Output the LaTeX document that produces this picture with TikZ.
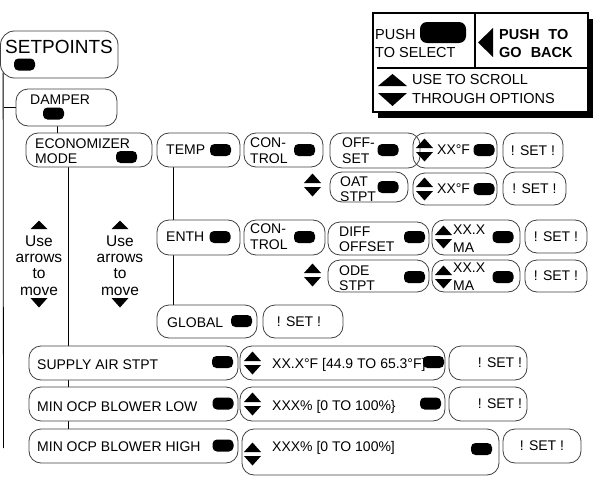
\documentclass[tikz,border=0pt]{standalone}
\usepackage{fontspec}
\setmainfont{Liberation Sans}
\usepackage{tikz}
\usetikzlibrary{backgrounds,shadows,positioning}
\tikzset{
  panel/.style={draw=black!75,fill=white,line width=0.8pt,rounded corners=12pt,inner sep=0pt},
  btn/.style={fill=black,rounded corners=4.5pt,minimum width=21pt,minimum height=12pt,inner sep=0pt},
  lbl/.style={anchor=west,inner sep=0pt,align=left,font=\fontsize{14}{15.5}\selectfont},
  setlbl/.style={inner sep=0pt,font=\fontsize{14}{16}\selectfont},
  leglbl/.style={anchor=west,inner sep=0pt,font=\fontsize{14.5}{16}\selectfont},
  wire/.style={line width=0.8pt,black},
  updn/.pic={\fill (-8.5,-2)--(8.5,-2)--(0,-11.5)--cycle;
             \fill (-8.5,2)--(8.5,2)--(0,11.5)--cycle;}
}

\begin{document}
\begin{tikzpicture}[x=1pt,y=-1pt]
\useasboundingbox (0,0) rectangle (595,479);
% menu boxes
\node[panel,minimum width=117.5pt,minimum height=47pt,rounded corners=14pt] (setp) at (59.25,54.5) {};
\foreach \n/\x/\y/\w/\h in {damper/66.5/107.5/101/37, econ/89/150/126/34, temp/198.5/150/83/34,
  ctlA/283.5/150/79/34, offs/375/150.5/90/35, setA/533/150.5/60/35,
  oat/369/187/78/30, valB/455/189/84/32, setB/534.5/188.5/63/33,
  enth/198.5/237.5/83/35, ctlB/284.5/237.5/81/35, diff/378.5/238.5/101/33,
  valC/476/237.5/88/35, setC/556/236.5/62/33, ode/378.5/276/101/32,
  valD/476/276/88/32, setD/556/276/62/32, glob/207/321.5/100/33, setE/303/321.5/80/33,
  supply/133.5/363/209/34, valE/342.5/363/205/34, setF/488/363/78/34,
  low/133.5/404/209/34, valF/342.5/404/205/34, setG/488/404/78/34,
  high/133.5/446/209/34, valG/370.5/452/257/46, setH/542/446/78/34}{
  \node[panel,minimum width=\w pt,minimum height=\h pt] (\n) at (\x,\y) {};}
\node[panel,fill=none,minimum width=84pt,minimum height=35pt] (valA) at (455,150.5) {};

% tree lines
\begin{pgfonlayer}{background}
\coordinate (trk) at (3.5,448);
\draw[wire] ([xshift=3pt,yshift=6pt]setp.south west) -- (trk);
\draw[wire] (damper.west) -- (damper.west -| trk);
\draw[wire] ([xshift=-9.5pt]damper.south) -- ([xshift=-9.5pt]damper.south |- econ.north);
\draw[wire] ([xshift=-21pt]econ.south) -- ([xshift=-21pt]econ.south |- high.north);
\draw[wire] ([xshift=-25.5pt]temp.south) -- ([xshift=-25.5pt]temp.south |- enth.north);
\draw[wire] ([xshift=-25.5pt]enth.south) -- ([xshift=-25.5pt]enth.south |- glob.north);
\end{pgfonlayer}

% texts
\node[lbl,font=\fontsize{19}{20}\selectfont] (tsetp) at (5,47) {SETPOINTS};
\node[lbl] (tdamper) at (30,100) {DAMPER};
\node[lbl] (tecon) at (35,151) {ECONOMIZER\\MODE};
\node[lbl] (ttemp) at (166,150) {TEMP};
\node[lbl] (tctlA) at (250,150.5) {CON-\\TROL};
\node[lbl] (toffs) at (342,150.5) {OFF-\\SET};
\node[lbl] (tvalA) at (437,150) {XX°F};
\node[lbl] (toat) at (340,189) {OAT\\STPT};
\node[lbl] (tvalB) at (437,189) {XX°F};
\node[lbl] (tenth) at (166,237) {ENTH};
\node[lbl] (tctlB) at (250,236.5) {CON-\\TROL};
\node[lbl] (tdiff) at (339,239.5) {DIFF\\OFFSET};
\node[lbl,font=\fontsize{14}{18}\selectfont] (tvalC) at (453,239) {XX.X\\MA};
\node[lbl] (tode) at (339,278) {ODE\\STPT};
\node[lbl,font=\fontsize{14}{18}\selectfont] (tvalD) at (453,277) {XX.X\\MA};
\node[lbl] (tglob) at (167,323) {GLOBAL};
\node[lbl] (tsupply) at (37,365) {SUPPLY AIR STPT};
\node[lbl] (tvalE) at (272,365) {XX.X°F [44.9 TO 65.3°F]};
\node[lbl] (tlow) at (37,407) {MIN OCP BLOWER LOW};
\node[lbl] (tvalF) at (272,407) {XXX\% [0 TO 100\%\}};
\node[lbl] (thigh) at (37,447) {MIN OCP BLOWER HIGH};
\node[lbl] (tvalG) at (272,448) {XXX\% [0 TO 100\%]};
\foreach \n/\x/\y in {A/533/150.5, B/534.5/188.5, C/556/236.5, D/556/276,
  E/299/321.5, F/500/363, G/500/404, H/542/446}
  \node[setlbl] (s\n) at (\x,\y) {! SET !};

% select buttons
\foreach \n/\x/\y in {setp/24.5/64.5, damper/53.5/113.5, econ/126.5/157, temp/220.5/150,
  ctlA/304.5/150, offs/388/150, valA/484/150, oat/388/187, valB/484/189,
  enth/220/237, ctlB/304.5/237, diff/414.5/237, valC/503/237, ode/414.5/277,
  valD/503/277, glob/241.5/321, supply/222.5/362, valE/433.5/362,
  low/223/403.5, valF/430.5/403.5, high/223/445.5, valG/481.5/449}
  \node[btn] (p\n) at (\x,\y) {};

% scroll arrows
\foreach \n/\x/\y in {A/424.5/150, B/424.5/189, oat/312.5/185, C/443.5/237,
  ode/312.5/275, D/443.5/277, E/252.5/363, F/252.5/404, G/252.5/454}
  \pic (ud\n) at (\x,\y) {updn};

% move hints
\foreach \n/\x in {A/39,B/120}{
  \node[inner sep=0pt,align=center,font=\fontsize{15.5}{16.3}\selectfont] (mv\n) at (\x,265.5) {Use\\arrows\\to\\move};
  \fill (\x-8.5,229) -- (\x+8.5,229) -- (\x,220.5) -- cycle;
  \fill (\x-8.5,298) -- (\x+8.5,298) -- (\x,307.5) -- cycle;}

% legend
\node[draw,line width=2.2pt,fill=white,minimum width=215pt,minimum height=99pt,inner sep=0pt,
  drop shadow={shadow xshift=4.5pt,shadow yshift=-5.5pt,fill=black,opacity=1}] (leg) at (480.5,62.5) {};
\coordinate (dv) at (475,68);
\draw[line width=1.8pt] (dv |- leg.north) -- (dv);
\draw[line width=1.8pt] (leg.east |- dv) -- (377,68);
\node[leglbl] (tpush) at (375,35) {PUSH};
\node[leglbl] (tsel) at (375,53) {TO SELECT};
\node[btn,minimum width=46pt,minimum height=21pt,rounded corners=7pt] (pleg) at (443,32.5) {};
\fill (478,42.5) -- (493,28) -- (493,57) -- cycle;
\node[leglbl,font=\bfseries\fontsize{14.5}{16}\selectfont] (tback) at (499,35) {PUSH\hspace{9pt}TO};
\node[leglbl,font=\bfseries\fontsize{14.5}{16}\selectfont] (tgo) at (499,53) {GO\hspace{9pt}BACK};
\fill (378,86) -- (407,86) -- (392.5,74) -- cycle;
\node[leglbl] (tscroll) at (412,80) {USE TO SCROLL};
\fill (378,93) -- (407,93) -- (392.5,106) -- cycle;
\node[leglbl] (topts) at (412,99) {THROUGH OPTIONS};
\end{tikzpicture}
\end{document}
